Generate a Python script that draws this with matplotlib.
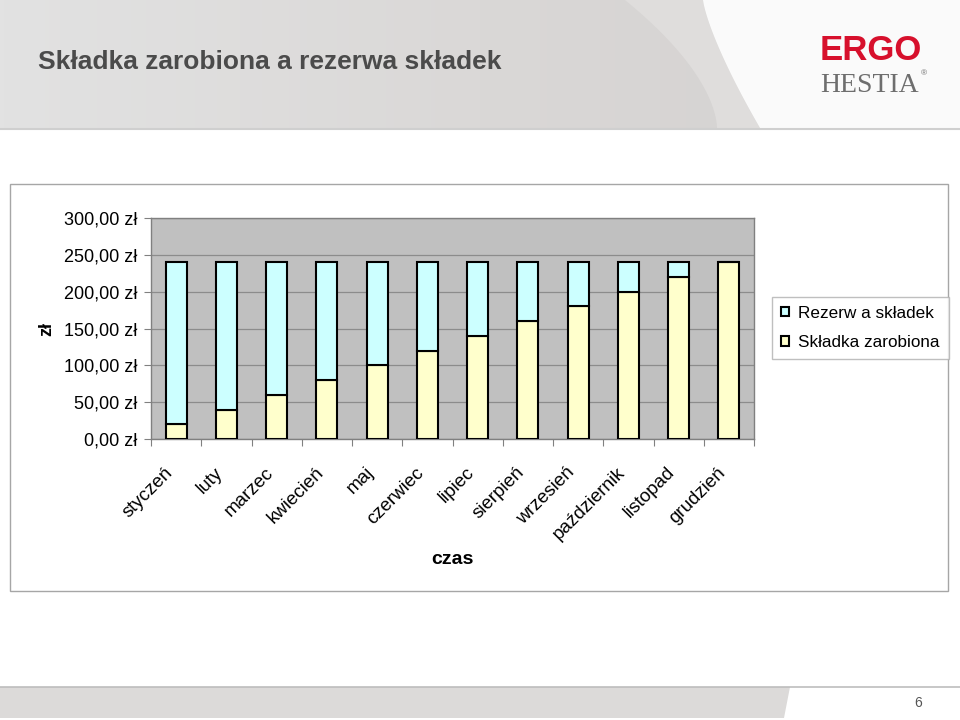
import numpy as np
import matplotlib
matplotlib.use("Agg")
import matplotlib.pyplot as plt
from matplotlib.patches import Rectangle, Polygon
from matplotlib.colors import LinearSegmentedColormap
from matplotlib.ticker import FixedLocator, FuncFormatter

months = ["styczeń", "luty", "marzec", "kwiecień", "maj", "czerwiec",
          "lipiec", "sierpień", "wrzesień", "październik", "listopad", "grudzień"]
earned = [20, 40, 60, 80, 100, 120, 140, 160, 180, 200, 220, 240]
reserve = [220, 200, 180, 160, 140, 120, 100, 80, 60, 40, 20, 0]
y_ticks = [0, 50, 100, 150, 200, 250, 300]

title = "Składka zarobiona a rezerwa składek"
label_reserve = "Rezerw a składek"
label_earned = "Składka zarobiona"

YELLOW = "#ffffcc"
CYAN = "#ccffff"

plt.rcParams["font.family"] = ["Liberation Sans", "DejaVu Sans"]


def slide_background(fig):
    bg = fig.add_axes([0, 0, 1, 1], zorder=-10)
    bg.set_xlim(0, 960)
    bg.set_ylim(720, 0)
    bg.axis("off")

    # header band with a soft grey gradient
    grad = np.linspace(0.0, 1.0, 256).reshape(1, -1)
    bg.imshow(grad, extent=[0, 960, 128, 0], aspect="auto",
              cmap=LinearSegmentedColormap.from_list("hdr", ["#e2e2e2", "#dad8d7", "#d3d0cf"]),
              zorder=0)
    t = np.linspace(0, 1, 40)
    band = [(625 + 92 * (1 - (1 - t_) ** 1.7), 128 * t_) for t_ in t]
    white = [(703 + 57 * t_ ** 1.3, 128 * t_) for t_ in t]
    bg.add_patch(Polygon(band + white[::-1], closed=True, fc="#dfdddc", ec="none", zorder=1))
    bg.add_patch(Polygon(white + [(960, 128), (960, 0)], closed=True, fc="#fafafa", ec="none", zorder=1))
    bg.plot([0, 960], [128.5, 128.5], color="#cfcfcf", lw=1.5, zorder=2)

    # chart frame
    bg.add_patch(Rectangle((10, 184), 938, 407, fc="white", ec="#a6a6a6", lw=1, zorder=2))

    # footer band
    bg.add_patch(Polygon([(0, 687), (790, 687), (784, 718), (0, 718)], closed=True,
                         fc="#dcdad9", ec="none", zorder=1))
    bg.plot([0, 960], [686.5, 686.5], color="#bdbdbd", lw=1.2, zorder=2)
    return bg


def plot(ax):
    x = np.arange(len(months))
    ax.set_facecolor("#c0c0c0")
    ax.bar(x, earned, width=0.42, color=YELLOW, edgecolor="black", lw=1.5,
           label=label_earned, zorder=3)
    ax.bar(x, reserve, width=0.42, bottom=earned, color=CYAN, edgecolor="black", lw=1.5,
           label=label_reserve, zorder=3)

    ax.set_xlim(-0.5, len(months) - 0.5)
    ax.set_ylim(y_ticks[0], y_ticks[-1])
    ax.set_yticks(y_ticks)
    ax.yaxis.set_major_formatter(FuncFormatter(lambda v, p: f"{v:.2f} zł".replace(".", ",")))
    ax.grid(axis="y", color="#8c8c8c", lw=0.9, zorder=1)
    ax.set_axisbelow(True)

    ax.xaxis.set_major_locator(FixedLocator(np.arange(len(months) + 1) - 0.5))
    ax.xaxis.set_major_formatter(FuncFormatter(lambda v, p: ""))
    ax.set_xticks(x, minor=True)
    ax.set_xticklabels(months, minor=True, rotation=45, ha="right", va="top", fontsize=13.5)
    ax.tick_params(axis="x", which="minor", length=0, pad=18)
    ax.tick_params(axis="x", which="major", length=5, color="#808080", direction="out")
    ax.tick_params(axis="y", length=5, color="#808080", labelsize=13, pad=5)

    for s in ax.spines.values():
        s.set_color("#808080")
        s.set_linewidth(1)

    ax.set_xlabel("czas", fontsize=14, fontweight="bold", labelpad=6)
    ax.set_ylabel("zł", fontsize=13, fontweight="bold", labelpad=6)


def main():
    fig = plt.figure(figsize=(9.6, 7.2), dpi=100)
    slide_background(fig)

    ax = fig.add_axes([151 / 960, 1 - 439 / 720, 603 / 960, 221 / 720])
    plot(ax)

    h, l = ax.get_legend_handles_labels()
    fig.legend(h[::-1], l[::-1], loc="upper left", bbox_to_anchor=(772 / 960, 1 - 297 / 720),
               fontsize=12.3, frameon=True, fancybox=False, edgecolor="#b0b0b0",
               handlelength=0.5, handleheight=0.5, handletextpad=0.55,
               borderpad=0.5, labelspacing=0.87, borderaxespad=0)

    fig.text(38 / 960, 1 - 62 / 720, title, fontsize=19, fontweight="bold",
             color="#4b4b4b", va="center", ha="left")
    fig.text(820 / 960, 1 - 60 / 720, "ERGO", fontsize=25, fontweight="bold",
             color="#d7102c", va="baseline", ha="left")
    fig.text(820 / 960, 1 - 92 / 720, "HESTIA", fontsize=20, color="#6e6e6e",
             va="baseline", ha="left", family=["Liberation Serif", "DejaVu Serif"])
    fig.text(921 / 960, 1 - 74 / 720, "®", fontsize=6, color="#6e6e6e", ha="left", va="center")
    fig.text(918 / 960, 1 - 703 / 720, "6", fontsize=10, color="#555555", ha="center", va="center")

    fig.savefig("out.png", dpi=100)


if __name__ == "__main__":
    main()
